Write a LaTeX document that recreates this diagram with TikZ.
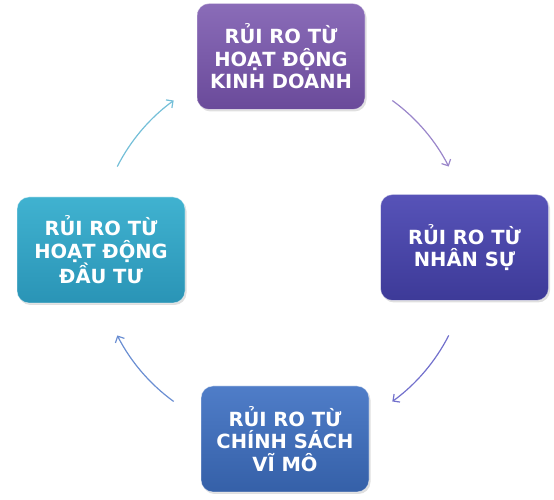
\documentclass[tikz,border=0pt]{standalone}
\usepackage{fontspec}
\setmainfont{DejaVu Sans}
\usetikzlibrary{arrows.meta,shadows}
\definecolor{pTop}{HTML}{8A6CB8}
\definecolor{pBot}{HTML}{6A4A9A}
\definecolor{iTop}{HTML}{5753B8}
\definecolor{iBot}{HTML}{3D3A98}
\definecolor{bTop}{HTML}{4F7DC8}
\definecolor{bBot}{HTML}{3560A8}
\definecolor{cTop}{HTML}{40B2D0}
\definecolor{cBot}{HTML}{2A94B6}
\definecolor{aCyan}{HTML}{74BFD8}
\definecolor{aLav}{HTML}{9A86CA}
\definecolor{aInd}{HTML}{7270CC}
\definecolor{aBlue}{HTML}{6A8ED2}
\tikzset{
  riskbox/.style n args={2}{rectangle, rounded corners=12pt,
    minimum width=168pt, minimum height=106pt, align=center,
    text=white, font=\bfseries\fontsize{19.5}{22.5}\selectfont,
    top color=#1, bottom color=#2, draw=white, draw opacity=0.45, line width=0.8pt,
    drop shadow={shadow xshift=1.5pt, shadow yshift=-2pt, opacity=0.25}},
  cyclearrow/.style={line width=1.2pt, draw=#1,
    -{Straight Barb[length=5pt,width=10pt]}}
}
\begin{document}
\begin{tikzpicture}
\useasboundingbox (0,0) rectangle (554pt,500pt);
\node[riskbox={pTop}{pBot}] (top) at (281pt,443.5pt) {RỦI RO TỪ\\HOẠT ĐỘNG\\KINH DOANH};
\node[riskbox={iTop}{iBot}] (right) at (464.5pt,252.5pt) {RỦI RO TỪ\\NHÂN SỰ};
\node[riskbox={bTop}{bBot}] (bottom) at (285pt,61pt) {RỦI RO TỪ\\CHÍNH SÁCH\\VĨ MÔ};
\node[riskbox={cTop}{cBot}] (left) at (101pt,250pt) {RỦI RO TỪ\\HOẠT ĐỘNG\\ĐẦU TƯ};
\coordinate (c) at (283pt,249pt);
\coordinate (s1) at ([shift={(153:186pt)}]c);
\coordinate (s2) at ([shift={(54:186pt)}]c);
\coordinate (s3) at ([shift={(-27:186pt)}]c);
\coordinate (s4) at ([shift={(-126:186pt)}]c);
\draw[cyclearrow=aCyan] (s1) arc[start angle=153, end angle=126, radius=186pt];
\draw[cyclearrow=aLav] (s2) arc[start angle=54, end angle=27, radius=186pt];
\draw[cyclearrow=aInd] (s3) arc[start angle=-27, end angle=-54, radius=186pt];
\draw[cyclearrow=aBlue] (s4) arc[start angle=-126, end angle=-153, radius=186pt];
\end{tikzpicture}
\end{document}
